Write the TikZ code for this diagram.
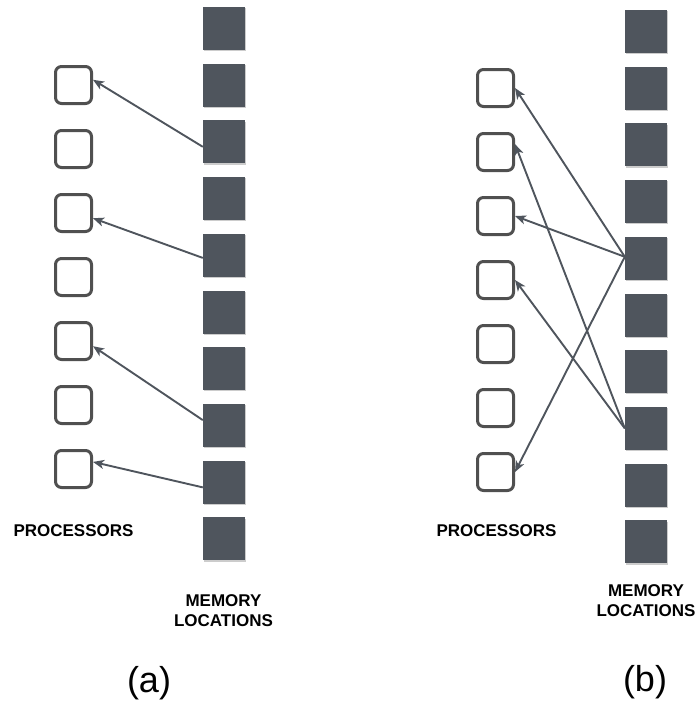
\documentclass[tikz,border=0pt]{standalone}
\usepackage{fontspec}
\setmainfont{Liberation Sans}
\usepackage{tikz}
\usetikzlibrary{positioning}
\usetikzlibrary{arrows.meta}
\usetikzlibrary{shadows}
\definecolor{slate}{HTML}{4F555D}
\definecolor{boxline}{HTML}{505050}
\tikzset{
    procnode/.style = {rectangle, rounded corners=6pt, line width=3pt, draw=boxline, fill=white, minimum width=36pt, minimum height=37pt, inner sep=0pt},
    memnode/.style = {rectangle, fill=slate, minimum width=42pt, minimum height=43pt, inner sep=0pt, drop shadow={shadow xshift=1.2pt, shadow yshift=-1.2pt, fill=black, opacity=0.2}},
    edgea/.style = {-{Stealth[length=11pt,width=9pt,inset=3pt]}, line width=1.9pt, slate},
    caplabel/.style = {font=\bfseries\fontsize{17}{20}\selectfont, align=center},
    sublabel/.style = {font=\fontsize{36}{40}\selectfont}
}
\begin{document}
\begin{tikzpicture}[x=1pt,y=-1pt]
\useasboundingbox (0,0) rectangle (696,702);
% (a)
\foreach \i in {1,...,10}
  \node[memnode] (ma\i) at (224,{28.5+56.7*(\i-1)}) {};
\foreach \i in {1,...,7}
  \node[procnode] (pa\i) at (73.5,{85+64*(\i-1)}) {};
\draw[edgea] (ma3.193) -- (pa1.15);
\draw[edgea] (ma5.187) -- (pa3.-15);
\draw[edgea] (ma8.166) -- (pa5.-15);
\draw[edgea] (ma9.194) -- (pa7.20);
\node[caplabel] (proca) at (73.5,531) {PROCESSORS};
\node[caplabel] (mema) at (223.5,611) {MEMORY\\LOCATIONS};
\node[sublabel] (suba) at (149,683) {(a)};
% (b)
\foreach \i in {1,...,10}
  \node[memnode] (mb\i) at (646,{31.5+56.7*(\i-1)}) {};
\foreach \i in {1,...,7}
  \node[procnode] (pb\i) at (495.5,{88+64*(\i-1)}) {};
\draw[edgea] (mb5.176) -- (pb1.east);
\draw[edgea] (mb5.176) -- (pb3.east);
\draw[edgea] (mb5.176) -- (pb7.east);
\draw[edgea] (mb8.west) -- (pb2.22);
\draw[edgea] (mb8.west) -- (pb4.east);
\node[caplabel] (procb) at (496.5,530.5) {PROCESSORS};
\node[caplabel] (memb) at (646,601) {MEMORY\\LOCATIONS};
\node[sublabel] (subb) at (645,682) {(b)};
\end{tikzpicture}
\end{document}
